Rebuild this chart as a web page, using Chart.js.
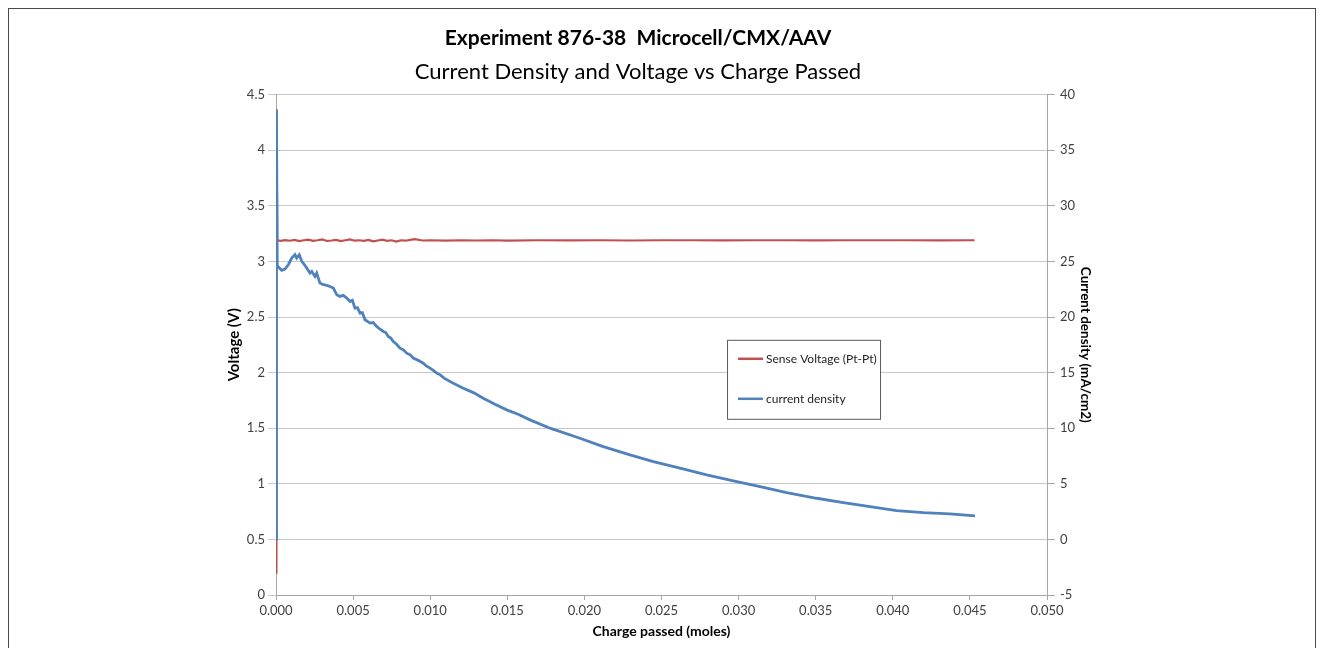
<!DOCTYPE html>
<html>
<head>
<meta charset="utf-8">
<title>Experiment 876-38</title>
<script src="https://cdn.jsdelivr.net/npm/chart.js@4.4.1/dist/chart.umd.min.js"></script>
<style>
  html, body { margin: 0; padding: 0; background: #fff; overflow: hidden; }
  #frame {
    position: absolute; left: 8px; top: 8px;
    width: 1306px; height: 700px;
    border: 1px solid #4a4a4a;
  }
  #wrap { position: absolute; left: 0; top: 0; width: 1324px; height: 648px; }
</style>
</head>
<body>
<div id="frame"></div>
<div id="wrap"><canvas id="chart" width="1324" height="648"></canvas></div>
<script>
// Sense voltage (V) vs charge passed (moles)
const voltCharge = [0, 0.00003, 0.00008, 0.0003, 0.0006, 0.0009, 0.0012, 0.0015, 0.0018, 0.0021,
  0.0024, 0.0027, 0.003, 0.0033, 0.0036, 0.0039, 0.0042, 0.0045, 0.0048, 0.0051,
  0.0054, 0.0057, 0.006, 0.0063, 0.0066, 0.0069, 0.0072, 0.0075, 0.0078, 0.0081,
  0.0084, 0.0087, 0.009, 0.0095, 0.010, 0.011, 0.012, 0.013, 0.014, 0.015,
  0.017, 0.019, 0.021, 0.023, 0.025, 0.027, 0.029, 0.031, 0.033, 0.035,
  0.037, 0.039, 0.041, 0.043, 0.0453];
const senseVoltage = [0.2, 4.37, 3.19, 3.185, 3.192, 3.186, 3.194, 3.183, 3.19, 3.196,
  3.185, 3.19, 3.198, 3.184, 3.188, 3.194, 3.182, 3.19, 3.197, 3.186,
  3.19, 3.185, 3.193, 3.18, 3.188, 3.195, 3.185, 3.19, 3.178, 3.19,
  3.186, 3.194, 3.2, 3.188, 3.19, 3.186, 3.19, 3.188, 3.19, 3.187,
  3.19, 3.189, 3.19, 3.188, 3.19, 3.19, 3.189, 3.19, 3.19, 3.189,
  3.19, 3.19, 3.19, 3.189, 3.19];

// Current density (mA/cm2) vs charge passed (moles)
const cdCharge = [0, 0.00003, 0.00008, 0.00037, 0.00058, 0.0008, 0.00102, 0.00123, 0.00134, 0.00151,
  0.00167, 0.00185, 0.00199, 0.0022, 0.00232, 0.00253, 0.00264, 0.00285, 0.00307, 0.0033,
  0.0035, 0.00372, 0.00394, 0.00415, 0.00436, 0.00459, 0.0048, 0.00495, 0.00512, 0.00528,
  0.00545, 0.0056, 0.00577, 0.0061, 0.0063, 0.00653, 0.00675, 0.00696, 0.00712, 0.00728,
  0.00745, 0.00761, 0.00782, 0.00804, 0.00826, 0.00848, 0.0087, 0.0089, 0.00922, 0.00955,
  0.00975, 0.00999, 0.0102, 0.01042, 0.01065, 0.0109, 0.0115, 0.01215, 0.0128, 0.01344,
  0.0142, 0.01496, 0.0157, 0.01647, 0.01777, 0.01971, 0.02122, 0.02296, 0.02447, 0.0262,
  0.02793, 0.02966, 0.03139, 0.03312, 0.03506, 0.03679, 0.03852, 0.04025, 0.04198, 0.04371,
  0.04533];
const currentDensity = [0, 38.6, 24.6, 24.2, 24.3, 24.7, 25.3, 25.6, 25.3, 25.6,
  25.0, 24.7, 24.4, 23.95, 24.1, 23.65, 23.95, 23.05, 22.9, 22.85,
  22.75, 22.6, 22.0, 21.85, 21.95, 21.7, 21.4, 21.5, 20.8, 20.85,
  20.35, 20.4, 19.75, 19.45, 19.5, 19.15, 18.9, 18.7, 18.6, 18.25,
  18.1, 17.8, 17.55, 17.2, 17.05, 16.75, 16.6, 16.3, 16.1, 15.85,
  15.6, 15.4, 15.2, 14.95, 14.8, 14.5, 14.05, 13.6, 13.2, 12.7,
  12.15, 11.65, 11.25, 10.75, 10.0, 9.1, 8.35, 7.6, 7.0, 6.4,
  5.8, 5.26, 4.75, 4.2, 3.7, 3.31, 2.95, 2.59, 2.41, 2.29,
  2.11];

const seriesNames = ["Sense Voltage (Pt-Pt)", "current density"];
const seriesColors = ["#C0504D", "#4F81BD"];

const FONT = "Lato, 'Open Sans', sans-serif";

function toPoints(xs, ys) {
  return xs.map((x, i) => ({ x: x, y: ys[i] }));
}

// legend drawn inside the plot, boxed, like the original
const boxLegend = {
  id: "boxLegend",
  afterDraw(chart) {
    const ctx = chart.ctx;
    const area = chart.chartArea;
    const x = area.left + (area.right - area.left) * 0.585;
    const y = area.top + (area.bottom - area.top) * 0.49;
    const w = 153, h = 79;
    ctx.save();
    ctx.fillStyle = "#fff";
    ctx.fillRect(x, y, w, h);
    ctx.strokeStyle = "#5a5a5a";
    ctx.lineWidth = 1;
    ctx.strokeRect(x + 0.5, y + 0.5, w, h);
    ctx.font = "12px " + FONT;
    ctx.textBaseline = "middle";
    chart.data.datasets.forEach((ds, i) => {
      const yy = y + 19 + i * 40;
      ctx.strokeStyle = ds.borderColor;
      ctx.lineWidth = 2.5;
      ctx.beginPath();
      ctx.moveTo(x + 11, yy);
      ctx.lineTo(x + 36, yy);
      ctx.stroke();
      ctx.fillStyle = "#222";
      ctx.fillText(ds.label, x + 39, yy);
    });
    ctx.restore();
  }
};

const ctx = document.getElementById("chart").getContext("2d");
const chart = new Chart(ctx, {
  type: "scatter",
  data: {
    datasets: [
      {
        label: seriesNames[0],
        data: toPoints(voltCharge, senseVoltage),
        borderColor: seriesColors[0],
        borderWidth: 2.2,
        showLine: true,
        pointRadius: 0,
        yAxisID: "yV",
        order: 2
      },
      {
        label: seriesNames[1],
        data: toPoints(cdCharge, currentDensity),
        borderColor: seriesColors[1],
        borderWidth: 2.8,
        showLine: true,
        pointRadius: 0,
        yAxisID: "yCD",
        order: 1
      }
    ]
  },
  options: {
    responsive: false,
    animation: false,
    // right padding shifts the titles left, the right scale width makes up for it
    layout: { padding: { left: 0, right: 48, top: 0, bottom: 0 } },
    plugins: {
      legend: { display: false },
      tooltip: { enabled: false },
      title: {
        display: true,
        text: "Experiment 876-38  Microcell/CMX/AAV",
        color: "#000",
        font: { family: FONT, size: 21, weight: "bold", lineHeight: 1.2 },
        padding: { top: 26, bottom: 8 }
      },
      subtitle: {
        display: true,
        text: "Current Density and Voltage vs Charge Passed",
        color: "#000",
        font: { family: FONT, size: 22, weight: "normal", lineHeight: 1.2 },
        padding: { top: 0, bottom: 9 }
      }
    },
    scales: {
      x: {
        type: "linear",
        min: 0,
        max: 0.05,
        afterFit(scale) { scale.height = 53; },
        ticks: {
          stepSize: 0.005,
          color: "#404040",
          font: { family: FONT, size: 13 },
          padding: 3,
          maxRotation: 0,
          callback: (v) => v.toFixed(3)
        },
        grid: { drawOnChartArea: false, color: "#a6a6a6", tickLength: 5 },
        border: { color: "#a6a6a6" },
        title: {
          display: true,
          text: "Charge passed (moles)",
          color: "#000",
          font: { family: FONT, size: 14, weight: "bold" },
          padding: { top: 0, bottom: 8 }
        }
      },
      yV: {
        type: "linear",
        position: "left",
        min: 0,
        max: 4.5,
        afterFit(scale) { scale.width = 276; },
        ticks: {
          stepSize: 0.5,
          color: "#404040",
          font: { family: FONT, size: 13 },
          padding: 3,
          callback: (v) => String(Number(v.toFixed(1)))
        },
        grid: { color: "#c8c8c8", tickLength: 8 },
        border: { color: "#a6a6a6" },
        title: {
          display: true,
          text: "Voltage (V)",
          color: "#000",
          font: { family: FONT, size: 15, weight: "bold" },
          padding: { top: 225, bottom: 0 }
        }
      },
      yCD: {
        type: "linear",
        position: "right",
        min: -5,
        max: 40,
        afterFit(scale) { scale.width = 229; },
        ticks: {
          stepSize: 5,
          color: "#404040",
          font: { family: FONT, size: 13 },
          padding: 5
        },
        grid: { drawOnChartArea: false, color: "#a6a6a6", tickLength: 8 },
        border: { color: "#a6a6a6" },
        title: {
          display: true,
          text: "Current density (mA/cm2)",
          color: "#000",
          font: { family: FONT, size: 13.5, weight: "bold" },
          padding: { top: 183, bottom: 0 }
        }
      }
    }
  },
  plugins: [boxLegend]
});
</script>
</body>
</html>
